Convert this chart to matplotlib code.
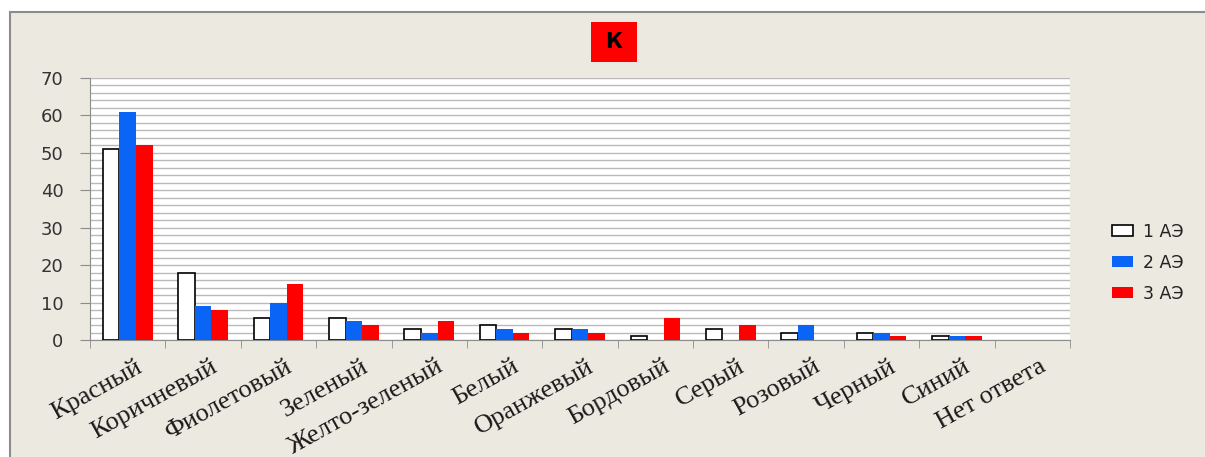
import numpy as np
import matplotlib
matplotlib.use('Agg')
import matplotlib.pyplot as plt
import matplotlib.transforms as mtransforms
from matplotlib.patches import Rectangle
from matplotlib.ticker import MultipleLocator

categories = ['Красный', 'Коричневый', 'Фиолетовый', 'Зеленый', 'Желто-зеленый',
              'Белый', 'Оранжевый', 'Бордовый', 'Серый', 'Розовый', 'Черный',
              'Синий', 'Нет ответа']
ae1 = [51, 18, 6, 6, 3, 4, 3, 1, 3, 2, 2, 1, 0]
ae2 = [61, 9, 10, 5, 2, 3, 3, 0, 0, 4, 2, 1, 0]
ae3 = [52, 8, 15, 4, 5, 2, 2, 6, 4, 0, 1, 1, 0]
series_names = ['1 АЭ', '2 АЭ', '3 АЭ']

bg = '#ecE9e0'
fig = plt.figure(figsize=(12.05, 4.57), dpi=100)
fig.patch.set_facecolor('white')

# бежевая подложка слайда
fig.patches.append(Rectangle((10 / 1205, -0.01), 1.0, 1 - 12 / 457 + 0.01,
                             transform=fig.transFigure, facecolor=bg,
                             edgecolor='#8c8c8c', linewidth=1.5, zorder=-5))

ax = fig.add_axes([90 / 1205, 1 - 340 / 457, 980 / 1205, 262 / 457])
ax.set_facecolor('white')

x = np.arange(len(categories))
w = 0.22
b1 = ax.bar(x - w, ae1, w, color='white', edgecolor='black', linewidth=1.2,
            label=series_names[0], zorder=3)
ax.bar(x, ae2, w, color='#0a64f5', label=series_names[1], zorder=3)
ax.bar(x + w, ae3, w, color='#ff0000', label=series_names[2], zorder=3)
# у нулевых столбиков контур не рисуем
for p, v in zip(b1.patches, ae1):
    if v == 0:
        p.set_linewidth(0)

ax.set_xlim(-0.5, len(categories) - 0.5)
ax.set_ylim(0, 70)
ax.yaxis.set_major_locator(MultipleLocator(10))
ax.yaxis.set_minor_locator(MultipleLocator(2))
ax.grid(axis='y', which='both', color='#bababa', linewidth=1, zorder=0)
ax.tick_params(axis='y', which='minor', length=0)
ax.tick_params(axis='y', which='major', length=7, color='#8c8c8c',
               labelsize=13, pad=12, labelcolor='#333333')

# подписи категорий по центру, засечки на границах групп
ax.set_xticks(x)
ax.set_xticklabels(categories, rotation=29, ha='right', rotation_mode='anchor',
                   family='Liberation Serif', fontsize=19, color='#1a1a1a')
ax.tick_params(axis='x', which='major', length=0, pad=11)
shift = mtransforms.ScaledTranslation(7 / 100, 0, fig.dpi_scale_trans)
for lbl in ax.get_xticklabels():
    lbl.set_transform(lbl.get_transform() + shift)
ax.set_xticks(np.arange(len(categories) + 1) - 0.5, minor=True)
ax.tick_params(axis='x', which='minor', length=6, color='#8c8c8c')

for s in ['top', 'right']:
    ax.spines[s].set_visible(False)
ax.spines['left'].set_color('#8c8c8c')
ax.spines['bottom'].set_color('#8c8c8c')

leg = fig.legend(loc='center left', bbox_to_anchor=(1112 / 1205, 1 - 263 / 457),
                 frameon=False, fontsize=12.5, handlelength=1.2, handleheight=0.6,
                 labelspacing=0.75, handletextpad=0.6, borderpad=0,
                 borderaxespad=0)
for t in leg.get_texts():
    t.set_color('#222222')

# заголовок в красной плашке
fig.patches.append(Rectangle((591 / 1205, 1 - 62 / 457), 46 / 1205, 40 / 457,
                             transform=fig.transFigure, facecolor='#ff0000',
                             edgecolor='none', zorder=2))
fig.text(614 / 1205, 1 - 42 / 457, 'К', ha='center', va='center',
         fontsize=15, fontweight='bold', color='black', zorder=3)

fig.savefig('out.png', dpi=100, facecolor=fig.get_facecolor())
